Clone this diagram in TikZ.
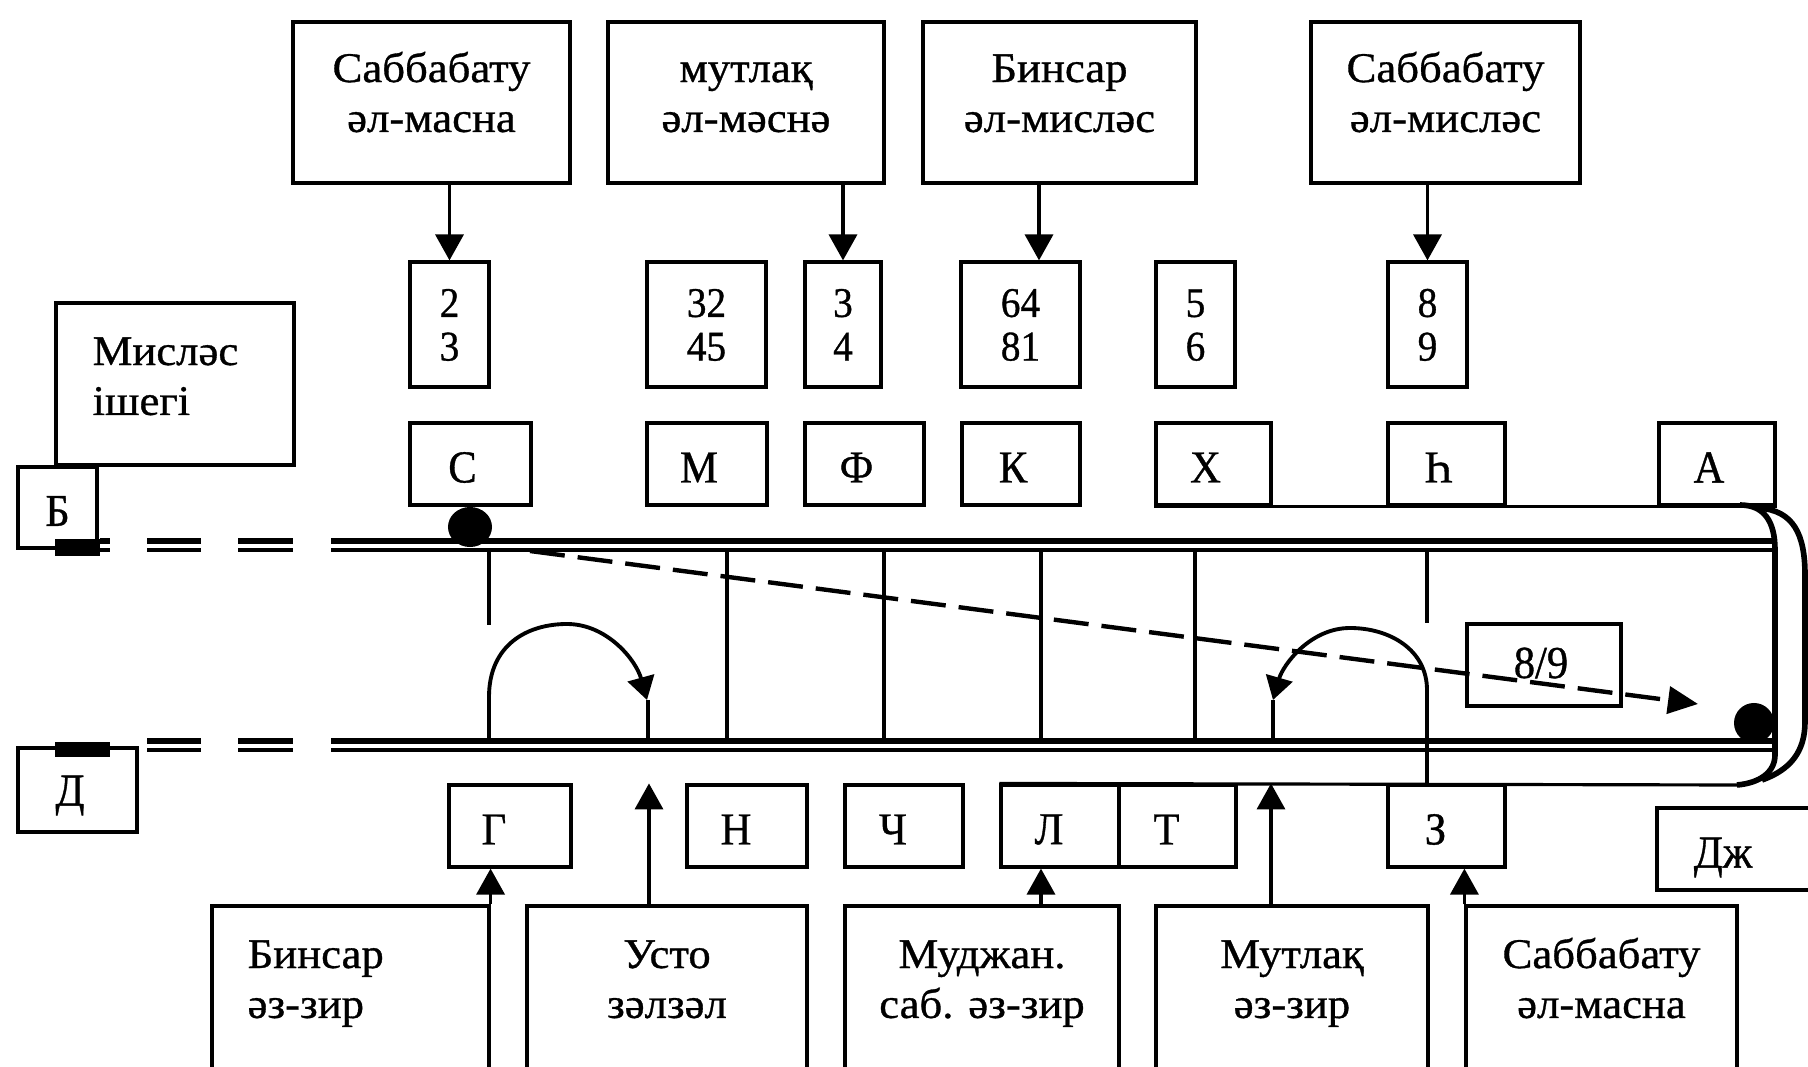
\documentclass[tikz,border=0pt]{standalone}
\usepackage{fontspec}
\setmainfont[FakeStretch=1.06,FakeBold=0.8]{Liberation Serif}
\newfontfamily\tallfont[FakeStretch=0.93,FakeBold=0.8]{Liberation Serif}
\usetikzlibrary{arrows.meta,calc}
% box node (drawn, no text) + its text node
\newcommand\bx[7][]{%
  \node[box,minimum width={(#5-#3)*0.01cm},minimum height={(#6-#4)*0.01cm}] (#2) at ({(#3+#5)/2},{(#4+#6)/2}) {};
  \node[txt,#1] (#2-t) at (#2.center) {#7};}
\begin{document}
\begin{tikzpicture}[x=0.01cm,y=-0.01cm,
  box/.style={draw,line width=0.9pt,inner sep=0pt},
  txt/.style={inner sep=0pt,align=center,font=\fontsize{12}{14.2}\selectfont},
  wordtop/.style={yshift=0.055cm},
  wordbot/.style={yshift=0.2cm},
  numtxt/.style={yshift=-0.055cm,font=\tallfont\fontsize{12}{12.4}\selectfont},
  lettxt/.style={yshift=-0.035cm,font=\tallfont\fontsize{13}{14}\selectfont},
  toplet/.style={lettxt,xshift=-0.08cm},
  botlet/.style={lettxt,xshift=-0.11cm},
  arr/.style={line width=1pt,-{Triangle[length=0.26cm,width=0.28cm]}},
  thinl/.style={line width=0.9pt},
  raila/.style={line width=1.45pt},
  railb/.style={line width=1.05pt},
  bracket/.style={line width=1.6pt},
]
\useasboundingbox (0,0) rectangle (1808,1067);

% top boxes
\bx[wordtop]{t1}{293}{22}{570}{183}{\strut Саббабату\\\strut әл-масна}
\bx[wordtop]{t2}{608}{22}{884}{183}{\strut мутлақ\\\strut әл-мәснә}
\bx[wordtop]{t3}{923}{22}{1196}{183}{\strut Бинсар\\\strut әл-мисләс}
\bx[wordtop]{t4}{1311}{22}{1580}{183}{\strut Саббабату\\\strut әл-мисләс}

% number boxes
\bx[numtxt]{n1}{410}{262}{489}{387}{\strut 2\\\strut 3}
\bx[numtxt]{n2}{647}{262}{766}{387}{\strut 32\\\strut 45}
\bx[numtxt]{n3}{805}{262}{881}{387}{\strut 3\\\strut 4}
\bx[numtxt]{n4}{961}{262}{1080}{387}{\strut 64\\\strut 81}
\bx[numtxt]{n5}{1156}{262}{1235}{387}{\strut 5\\\strut 6}
\bx[numtxt]{n6}{1388}{262}{1467}{387}{\strut 8\\\strut 9}

\draw[arr] (n1.north |- t1.south) -- (n1.north);
\draw[arr] (n3.north |- t2.south) -- (n3.north);
\draw[arr] ([xshift=0.185cm]n4.north |- t3.south) -- ([xshift=0.185cm]n4.north);
\draw[arr] (n6.north |- t4.south) -- (n6.north);

% left box
\bx[anchor=west,align=left,xshift=-0.83cm,yshift=0.04cm]{mis}{56}{303}{294}{465}{\strut Мисләс\\\strut ішегі}

% letter boxes (top row)
\bx[toplet]{C}{410}{423}{531}{505}{С}
\bx[toplet]{M}{647}{423}{767}{505}{М}
\bx[toplet]{F}{805}{423}{924}{505}{Ф}
\bx[toplet]{K}{962}{423}{1080}{505}{К}
\bx[toplet]{X}{1156}{423}{1271}{505}{Х}
\bx[toplet]{H}{1388}{423}{1505}{505}{Һ}
\bx[toplet]{A}{1659}{423}{1775}{505}{А}
\draw[thinl] (X.south west) -- (A.south east);

\bx[lettxt]{B}{18}{467}{97}{548}{Б}
\bx[lettxt,xshift=-0.075cm,yshift=-0.02cm]{D}{18}{748}{137}{832}{Д}

% rails
\fill (55,539) rectangle (100,556);
\fill (55,742) rectangle (110,757);
\foreach \a/\b in {100/110,147/201,238/293,331/1772}{
  \draw[raila] (\a,541) -- (\b,541);
  \draw[railb] (\a,550) -- (\b,550);}
\foreach \a/\b in {147/201,238/293,331/1772}{
  \draw[raila] (\a,741) -- (\b,741);
  \draw[railb] (\a,750) -- (\b,750);}

% verticals
\draw[thinl] (489,551) -- (489,625);
\foreach \xx in {727,884,1041,1195}{\draw[thinl] (\xx,551) -- (\xx,741);}
\draw[thinl] (1427,551) -- (1427,623);

% dots
\fill (470,527) ellipse [x radius=0.22cm, y radius=0.2cm];
\fill (1754,723) circle [radius=0.2cm];

% 8/9 box and dashed arrow
\coordinate (dS) at (530,551);
\coordinate (dE) at (1698,704);
\bx[font=\tallfont\fontsize{13}{14}\selectfont,yshift=0.02cm,xshift=-0.03cm]{r89}{1467}{624}{1621}{706}{8/9}
\draw[line width=1.25pt,dash pattern=on 0.35cm off 0.13cm,-{Triangle[length=0.3cm,width=0.27cm]}] (dS) -- (dE);

% arcs
\draw[line width=1.1pt,-{Triangle[length=0.23cm,width=0.27cm]}] (489,741) -- (489,697) .. controls (489,645) and (527,624) .. (567,624) .. controls (607,624) and (636,660) .. (647,700);
\draw[thinl] (648,700) -- (648,741);
\draw[line width=1.1pt,-{Triangle[length=0.23cm,width=0.27cm]}] (1427,785) -- (1427,690) .. controls (1427,650) and (1390,628) .. (1350,628) .. controls (1310,628) and (1283,665) .. (1273,700);
\draw[thinl] (1273,700) -- (1273,741);

% bracket
\coordinate (brT) at (1740,505);
\coordinate (brB) at (1737,785);
\draw[bracket] (brT) .. controls (1763,505) and (1775,520) .. (1775,550) -- (1775,755) .. controls (1775,772) and (1760,783) .. (brB);
\draw[bracket] (1758,508) .. controls (1794,510) and (1805,535) .. (1805,575) -- (1805,722) .. controls (1805,752) and (1790,770) .. (1762,780);

% bottom letter boxes
\bx[botlet,xshift=-0.05cm]{G}{449}{785}{571}{867}{Г}
\bx[botlet]{N}{687}{785}{807}{867}{Н}
\bx[botlet]{Ch}{845}{785}{963}{867}{Ч}
\bx[botlet]{L}{1001}{785}{1119}{867}{Л}
\bx[botlet]{T}{1119}{785}{1236}{867}{Т}
\bx[botlet]{Z}{1388}{785}{1505}{867}{З}
\bx[lettxt,xshift=-0.205cm,yshift=-0.05cm]{Dzh}{1657}{808}{1830}{890}{Дж}
\draw[thinl] (L.north west) -- (brB);

% bottom boxes (run past the lower edge of the page)
\bx[wordbot,anchor=west,align=left,xshift=-1.035cm]{b1}{212}{906}{489}{1100}{\strut Бинсар\\\strut әз-зир}
\bx[wordbot]{b2}{527}{906}{807}{1100}{\strut Усто\\\strut зәлзәл}
\bx[wordbot]{b3}{845}{906}{1119}{1100}{\strut Муджан.\\\strut саб. әз-зир}
\bx[wordbot]{b4}{1156}{906}{1428}{1100}{\strut Мутлақ\\\strut әз-зир}
\bx[wordbot]{b5}{1466}{906}{1737}{1100}{\strut Саббабату\\\strut әл-масна}

\draw[arr] (b1.north east) -- (b1.north east |- G.south);
\draw[arr] ([xshift=-0.18cm]b2.north) -- ([xshift=-0.18cm]b2.north |- N.north);
\draw[arr] ([xshift=-0.19cm]L.south |- b3.north) -- ([xshift=-0.19cm]L.south);
\draw[arr] ([xshift=-0.21cm]b4.north) -- ([xshift=-0.21cm]b4.north |- Z.north);
\draw[arr] (b5.north west) -- (b5.north west |- Z.south);
\end{tikzpicture}
\end{document}
